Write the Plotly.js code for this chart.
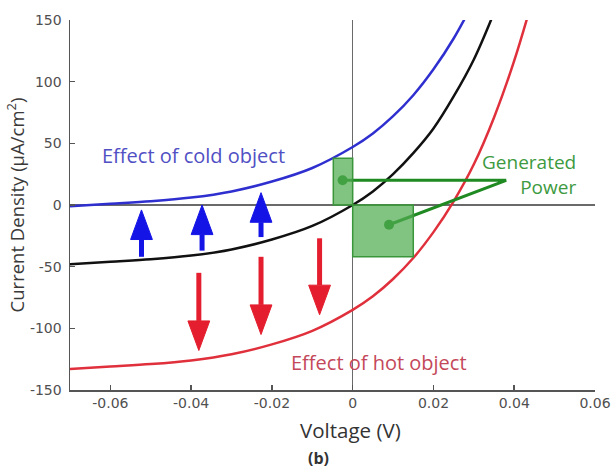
<!DOCTYPE html>
<html>
<head>
<meta charset="utf-8">
<script src="https://cdn.plot.ly/plotly-3.0.1.min.js"></script>
<style>html,body{margin:0;padding:0;background:#fff;}#chart{width:611px;height:470px;}</style>
</head>
<body>
<div id="chart"></div>
<script>
// Voltage samples (V)
const voltage = [-0.07, -0.06, -0.05, -0.04, -0.03, -0.02, -0.01, 0, 0.005, 0.01, 0.015, 0.02, 0.025, 0.03, 0.035, 0.04, 0.045];
// Current density (uA/cm^2)
const coldCurve = [-1, 1, 3, 6, 11, 19, 30, 47, 58, 72, 89, 110, 135, 165, null, null, null];
const baseCurve = [-48, -46, -44, -41, -36, -28, -17, 0, 11, 25, 42, 62, 88, 118, 156, null, null];
const hotCurve  = [-133, -131, -129, -126, -121, -113, -102, -85, -74, -60, -43, -22, 3, 33, 71, 117, 172];

// Arrows: x position, tail value, tip value
const upArrowX    = [-0.0523, -0.0373, -0.0227];
const upArrowTail = [-42, -37, -26];
const upArrowTip  = [-4, 0, 10];
const downArrowX    = [-0.0381, -0.0227, -0.0082];
const downArrowTail = [-55, -42, -27];
const downArrowTip  = [-118, -105, -89];

// Generated power rectangles (V range, current range)
const powerRectX0 = [-0.0048, 0];
const powerRectX1 = [0, 0.015];
const powerRectY0 = [0, -42];
const powerRectY1 = [38, 0];
// Pointer: dots and meeting point
const pointerX = [-0.0025, 0.038, 0.009];
const pointerY = [20, 20, -16];
const dotX = [-0.0025, 0.009];
const dotY = [20, -16];

// Tick labels
const xTickVals = [-0.06, -0.04, -0.02, 0, 0.02, 0.04, 0.06];
const xTickText = ["-0.06", "-0.04", "-0.02", "0", "0.02", "0.04", "0.06"];
const yTickVals = [-150, -100, -50, 0, 50, 100, 150];
const yTickText = ["-150", "-100", "-50", "0", "50", "100", "150"];

const BLUE = '#2f2fd0', RED = '#e0303c', GREEN = '#1f8a22';
const ARROW_BLUE = '#1414e6', ARROW_RED = '#e41e2e';

const traces = [
  {x: voltage, y: hotCurve, mode: 'lines', line: {color: RED, width: 2.5, shape: 'spline'}, hoverinfo: 'skip'},
  {x: voltage, y: baseCurve, mode: 'lines', line: {color: '#111', width: 2.5, shape: 'spline'}, hoverinfo: 'skip'},
  {x: voltage, y: coldCurve, mode: 'lines', line: {color: BLUE, width: 2.5, shape: 'spline'}, hoverinfo: 'skip'},
];

const shapes = [];
for (let i = 0; i < powerRectX0.length; i++) {
  shapes.push({type: 'rect', xref: 'x', yref: 'y', x0: powerRectX0[i], x1: powerRectX1[i], y0: powerRectY0[i], y1: powerRectY1[i],
    fillcolor: 'rgba(80,172,80,0.72)', line: {color: '#3a963a', width: 1.5}, layer: 'above'});
}
const HEAD_LEN = 24;      // in current units (~30 px)
const HEAD_HALF = 0.0027; // in volts (~11 px)
function addArrow(x, tail, tip, color) {
  const dir = tip > tail ? 1 : -1;
  const base = tip - dir * HEAD_LEN;
  shapes.push({type: 'line', xref: 'x', yref: 'y', x0: x, x1: x, y0: tail, y1: base, line: {color: color, width: 5}, layer: 'above'});
  shapes.push({type: 'path', xref: 'x', yref: 'y',
    path: `M ${x - HEAD_HALF} ${base} L ${x + HEAD_HALF} ${base} L ${x} ${tip} Z`,
    fillcolor: color, line: {color: color, width: 1}, layer: 'above'});
}
upArrowX.forEach((x, i) => addArrow(x, upArrowTail[i], upArrowTip[i], ARROW_BLUE));
downArrowX.forEach((x, i) => addArrow(x, downArrowTail[i], downArrowTip[i], ARROW_RED));

traces.push({x: pointerX, y: pointerY, mode: 'lines', line: {color: GREEN, width: 3}, hoverinfo: 'skip', cliponaxis: false});
traces.push({x: dotX, y: dotY, mode: 'markers', marker: {color: GREEN, size: 10}, hoverinfo: 'skip'});

const annFont = 'Open Sans, Noto Sans, sans-serif';
const tickFont = {family: 'DejaVu Sans, sans-serif', size: 14, color: '#505050'};
const layout = {
  width: 611, height: 470,
  margin: {l: 70, r: 16, t: 20, b: 80},
  paper_bgcolor: '#fff', plot_bgcolor: '#fff',
  showlegend: false,
  xaxis: {
    range: [-0.07, 0.06], tickvals: xTickVals, ticktext: xTickText,
    showgrid: false, zeroline: true, zerolinecolor: '#6a6a6a', zerolinewidth: 1.5,
    showline: true, linecolor: '#555', linewidth: 1.5,
    ticks: 'inside', ticklen: 5, tickcolor: '#555', tickwidth: 1.5,
    ticklabeloverflow: 'allow',
    tickfont: tickFont,
  },
  yaxis: {
    range: [-150, 150], tickvals: yTickVals, ticktext: yTickText,
    showgrid: false, zeroline: true, zerolinecolor: '#6a6a6a', zerolinewidth: 1.5,
    showline: true, linecolor: '#555', linewidth: 1.5,
    ticks: 'inside', ticklen: 5, tickcolor: '#555', tickwidth: 1.5,
    ticklabelstandoff: 4,
    tickfont: tickFont,
    title: {text: 'Current Density (μA/cm<sup>2</sup>)', font: {family: annFont, size: 18.5, color: '#3a3a3a'}, standoff: 0},
  },
  shapes: shapes,
  annotations: [
    {xref: 'paper', yref: 'paper', x: (350 - 70) / 525, y: (390 - 430) / 370, text: 'Voltage (V)', showarrow: false,
      font: {family: annFont, size: 20.5, color: '#333'}, xanchor: 'center', yanchor: 'middle'},
    {xref: 'paper', yref: 'paper', x: (318 - 70) / 525, y: (390 - 458) / 370, text: '<b>(b)</b>', showarrow: false,
      font: {family: annFont, size: 16, color: '#333'}, xanchor: 'center', yanchor: 'middle'},
    {xref: 'x', yref: 'y', x: -0.0625, y: 40, text: 'Effect of cold object', showarrow: false,
      font: {family: annFont, size: 20, color: '#5050c4'}, xanchor: 'left', yanchor: 'middle'},
    {xref: 'x', yref: 'y', x: -0.0158, y: -128, text: 'Effect of hot object', showarrow: false,
      font: {family: annFont, size: 20, color: '#c4485a'}, xanchor: 'left', yanchor: 'middle'},
    {xref: 'x', yref: 'y', x: 0.0557, y: 24.5, text: 'Generated<br>Power', showarrow: false, align: 'right',
      font: {family: annFont, size: 19, color: '#3d9a40'}, xanchor: 'right', yanchor: 'middle'},
  ],
};

Plotly.newPlot('chart', traces, layout, {staticPlot: true, displayModeBar: false});
</script>
</body>
</html>
